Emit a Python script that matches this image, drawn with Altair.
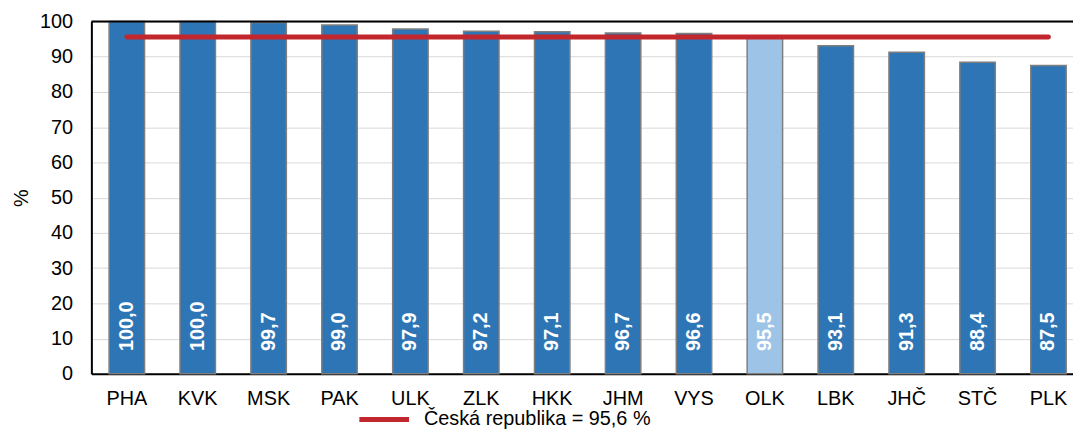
import altair as alt
import pandas as pd

regions = ["PHA", "KVK", "MSK", "PAK", "ULK", "ZLK", "HKK", "JHM", "VYS", "OLK", "LBK", "JHČ", "STČ", "PLK"]
values = [100.0, 100.0, 99.7, 99.0, 97.9, 97.2, 97.1, 96.7, 96.6, 95.5, 93.1, 91.3, 88.4, 87.5]
highlight = "OLK"
cr_value = 95.6
cr_label = "Česká republika = 95,6 %"
y_ticks = list(range(0, 101, 10))
y_max = 100

df = pd.DataFrame({"kraj": regions, "hodnota": values})
df["popisek"] = [f"{v:.1f}".replace(".", ",") for v in values]
line_df = pd.DataFrame({
    "kraj": regions,
    "cr": [cr_value] * len(regions),
    "serie": [cr_label] * len(regions),
})
top_df = pd.DataFrame({"v": [y_max]})

FONT = "Liberation Sans"

x_scale = alt.Scale(range=[0, 1000], paddingInner=0.5, paddingOuter=0.25)
x_axis = alt.Axis(title=None, labelAngle=0, labelFontSize=20, labelColor="black",
                  labelFont=FONT, labelPadding=15, ticks=False, domainColor="black",
                  domainWidth=2, grid=False)
y_scale = alt.Scale(domain=[0, y_max], nice=False)
y_axis = alt.Axis(title="%", values=y_ticks, tickCount=len(y_ticks) + 5, labelOverlap=False,
                  labelFontSize=20, labelColor="black", labelFont=FONT, labelPadding=19,
                  ticks=False, domainColor="black", domainWidth=2, gridColor="#D9D9D9",
                  gridWidth=1, titleFontSize=20, titleFontWeight="normal", titleFont=FONT,
                  titleColor="black", titlePadding=8)


def xe():
    return alt.X("kraj:N", sort=regions, scale=x_scale, axis=x_axis)


bars = alt.Chart(df).mark_bar(stroke="#7F7F7F", strokeWidth=1.5).encode(
    x=xe(),
    y=alt.Y("hodnota:Q", scale=y_scale, axis=y_axis),
    color=alt.condition(alt.datum.kraj == highlight, alt.value("#9DC3E6"), alt.value("#2E75B6")),
)

top_border = alt.Chart(top_df).mark_rule(color="black", strokeWidth=2).encode(
    y=alt.Y("v:Q", scale=y_scale, axis=y_axis),
)

labels = alt.Chart(df).mark_text(
    angle=270, align="left", baseline="middle", fontSize=20, fontWeight="bold",
    color="white", font=FONT, dx=23,
).encode(
    x=xe(),
    y=alt.datum(0, scale=y_scale, axis=y_axis),
    text="popisek:N",
)

line = alt.Chart(line_df).mark_line(strokeWidth=5, strokeCap="round").encode(
    x=xe(),
    y=alt.Y("cr:Q", scale=y_scale, axis=y_axis),
    color=alt.Color("serie:N", scale=alt.Scale(range=["#C1272D"]),
                    legend=alt.Legend(title=None, orient="none", legendX=285, legendY=391,
                                      symbolType="M-5,0H5", symbolSize=100, symbolStrokeWidth=5,
                                      labelFontSize=20, labelFont=FONT, labelColor="black",
                                      labelOffset=30, labelLimit=400)),
)

chart = alt.layer(bars, top_border, labels, line).properties(
    width=989, height=355,
    autosize=alt.AutoSizeParams(type="none"),
    padding={"left": 84, "top": 12, "right": 0, "bottom": 56},
).configure_view(stroke="transparent").configure(font=FONT)

chart.save("out.html", embed_options={"renderer": "svg", "actions": False})
